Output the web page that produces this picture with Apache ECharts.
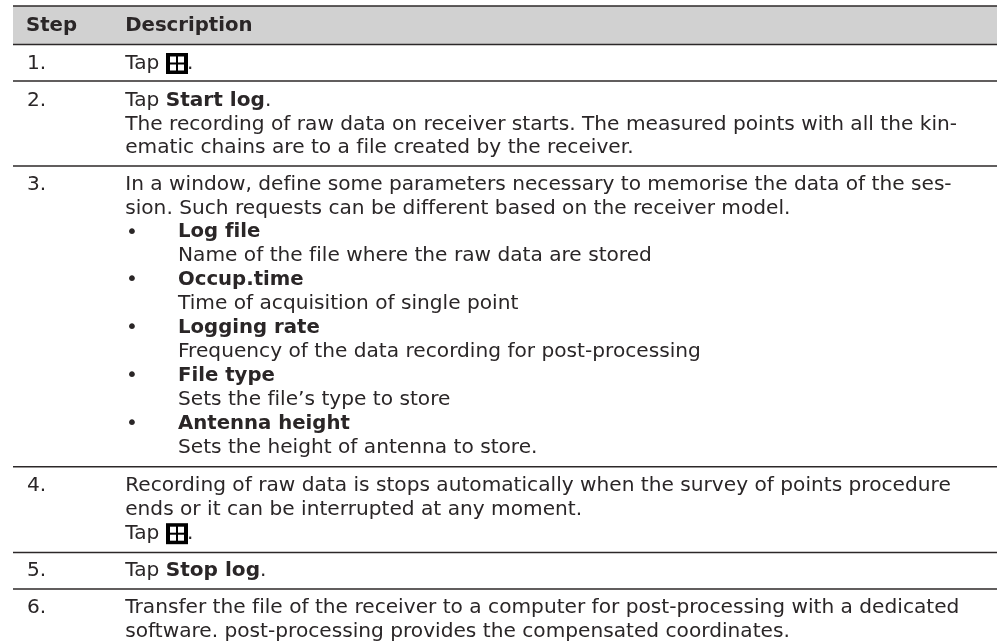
<!DOCTYPE html>
<html><head><meta charset="utf-8">
<style>html,body{margin:0;padding:0;background:#fff;overflow:hidden}#c{width:997px;height:644px}</style>
<script src="https://cdn.jsdelivr.net/npm/echarts@6/dist/echarts.min.js"></script>
</head><body><div id="c"></div>
<script>
// table content
const headers = ['Step', 'Description'];
const steps = ['1.', '2.', '3.', '4.', '5.', '6.'];
const step2 = ['Tap **Start log**.',
  'The recording of raw data on receiver starts. The measured points with all the kin-',
  'ematic chains are to a file created by the receiver.'];
const step3 = ['In a window, define some parameters necessary to memorise the data of the ses-',
  'sion. Such requests can be different based on the receiver model.'];
const step3Items = [
  ['Log file', 'Name of the file where the raw data are stored'],
  ['Occup.time', 'Time of acquisition of single point'],
  ['Logging rate', 'Frequency of the data recording for post-processing'],
  ['File type', 'Sets the file\u2019s type to store'],
  ['Antenna height', 'Sets the height of antenna to store.']
];
const step4 = ['Recording of raw data is stops automatically when the survey of points procedure',
  'ends or it can be interrupted at any moment.', 'Tap {icon}.'];
const step5 = ['Tap **Stop log**.'];
const step6 = ['Transfer the file of the receiver to a computer for post-processing with a dedicated',
  'software. post-processing provides the compensated coordinates.'];

// layout
const FONT = '"DejaVu Sans"', SIZE = 20.15, BOLD = 19.7, BOLD_INLINE = 20.1, INK = '#2a2627';
const X_STEP = 27, X_HEAD = 26, X_DESC = 125.2, X_BUL = 126, X_ITEM = 178, LEFT = 13, RIGHT = 997;
const RULES = [6, 44.4, 81, 166, 466.7, 552.5, 589];
const ROW_Y = [63.5, 100.7, 184.5, 486, 571, 608];
const LINE = 23.6, LINE_ROW3 = 23.9;

// the reference face has no ligatures: a tiny letter spacing turns them off in canvas
const origFill = CanvasRenderingContext2D.prototype.fillText;
CanvasRenderingContext2D.prototype.fillText = function () {
  this.letterSpacing = '0.001px';
  return origFill.apply(this, arguments);
};

const g = [];
g.push({type:'rect', shape:{x:LEFT,y:RULES[0],width:RIGHT-LEFT,height:RULES[1]-RULES[0]}, style:{fill:'#d1d1d1'}});
RULES.forEach(y => g.push({type:'line', shape:{x1:LEFT,y1:y,x2:RIGHT,y2:y}, style:{stroke:'#2c2829',lineWidth:1.5}}));

function text(x, y, s, bold) {
  const rich = s.split('**').map((p,i) => i%2 ? '{i|'+p+'}' : (p ? '{n|'+p+'}' : '')).join('');
  g.push({type:'text', x, y, style:{
    text: bold ? '{b|'+s+'}' : rich, verticalAlign:'middle', align:'left',
    rich:{
      n:{fontFamily:FONT,fontSize:SIZE,fill:INK,color:INK},
      b:{fontFamily:FONT,fontSize:BOLD,fontWeight:'bold',fill:INK,color:INK},
      i:{fontFamily:FONT,fontSize:BOLD_INLINE,fontWeight:'bold',fill:INK,color:INK}
    }
  }});
}
function icon(x, y) {
  g.push({type:'rect', shape:{x,y:y-10.5,width:22,height:21}, style:{fill:'#000'}});
  [[4,3.5],[12,3.5],[4,11.5],[12,11.5]].forEach(o =>
    g.push({type:'rect', shape:{x:x+o[0],y:y-10.5+o[1],width:6,height:6}, style:{fill:'#fff'}}));
}
function tapIcon(y) {
  text(X_DESC, y, 'Tap');
  icon(166, y);
  text(187, y, '.');
}
text(X_HEAD, 26, headers[0], true);
text(X_DESC, 26, headers[1], true);
steps.forEach((s,i) => text(X_STEP, ROW_Y[i], s));

tapIcon(ROW_Y[0]);
step2.forEach((s,i) => text(X_DESC, ROW_Y[1]+i*LINE, s));
step3.forEach((s,i) => text(X_DESC, ROW_Y[2]+i*LINE_ROW3, s));
step3Items.forEach((it,i) => {
  const y = ROW_Y[2] + (2+2*i)*LINE_ROW3;
  text(X_BUL, y, '\u2022');
  text(X_ITEM, y, it[0], true);
  text(X_ITEM, y+LINE_ROW3, it[1]);
});
step4.forEach((s,i) => { const y = ROW_Y[3]+i*LINE; s.includes('{icon}') ? tapIcon(y+0.5) : text(X_DESC, y, s); });
step5.forEach(s => text(X_DESC, ROW_Y[4], s));
step6.forEach((s,i) => text(X_DESC, ROW_Y[5]+i*LINE, s));

const chart = echarts.init(document.getElementById('c'), null, {renderer:'canvas'});
chart.setOption({animation:false, backgroundColor:'#fff', graphic:{elements:g}});
</script></body></html>
